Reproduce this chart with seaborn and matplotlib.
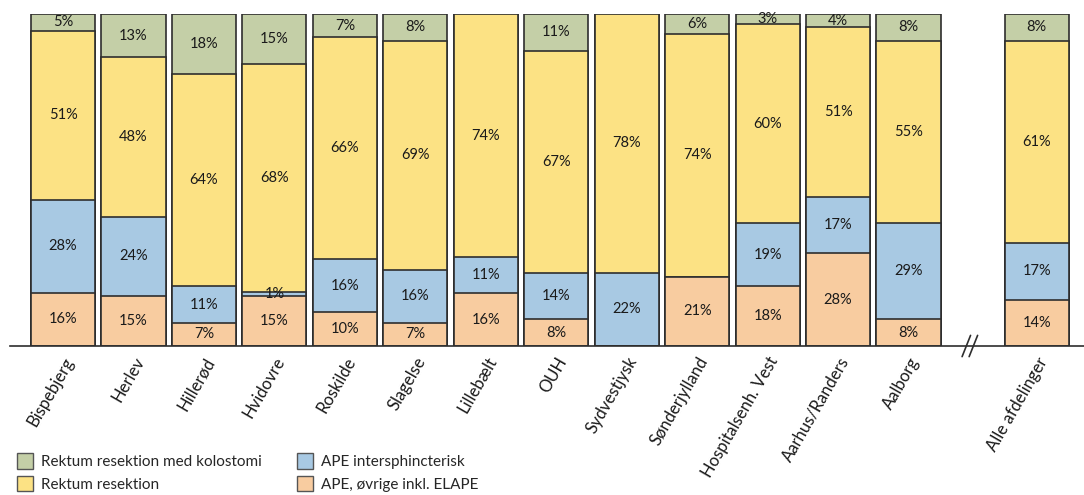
import numpy as np
import pandas as pd
import matplotlib
matplotlib.use('Agg')
import matplotlib.pyplot as plt
import seaborn as sns
from matplotlib.patches import Patch

# Data (procent pr. afdeling)
afdelinger = ['Bispebjerg', 'Herlev', 'Hillerød', 'Hvidovre', 'Roskilde', 'Slagelse',
              'Lillebælt', 'OUH', 'Sydvestjysk', 'Sønderjylland', 'Hospitalsenh. Vest',
              'Aarhus/Randers', 'Aalborg', 'Alle afdelinger']
ape_ovrige = [16, 15, 7, 15, 10, 7, 16, 8, 0, 21, 18, 28, 8, 14]
ape_inter = [28, 24, 11, 1, 16, 16, 11, 14, 22, 0, 19, 17, 29, 17]
rektum_res = [51, 48, 64, 68, 66, 69, 74, 67, 78, 74, 60, 51, 55, 61]
rektum_kolo = [5, 13, 18, 15, 7, 8, 0, 11, 0, 6, 3, 4, 8, 8]

serier = ['APE, øvrige inkl. ELAPE', 'APE intersphincterisk',
          'Rektum resektion', 'Rektum resektion med kolostomi']
farver = {'APE, øvrige inkl. ELAPE': '#F8CCA0',
          'APE intersphincterisk': '#A8C9E3',
          'Rektum resektion': '#FCE284',
          'Rektum resektion med kolostomi': '#C4CFA7'}

sns.set_style('white')
plt.rcParams['font.family'] = ['Lato', 'DejaVu Sans']

df = pd.DataFrame({'afdeling': afdelinger,
                   serier[0]: ape_ovrige, serier[1]: ape_inter,
                   serier[2]: rektum_res, serier[3]: rektum_kolo})
# "Alle afdelinger" står lidt adskilt fra de øvrige
df['pos'] = [float(i) for i in range(len(afdelinger) - 1)] + [13.82]

andel = df[serier].div(df[serier].sum(axis=1), axis=0) * 100
kum = andel.cumsum(axis=1)

fig = plt.figure(figsize=(10.84, 4.95), dpi=100)
ax = fig.add_axes([0.0092, 0.301, 0.9908, 0.6707])

# Stablede søjler: tegn kumulative summer fra toppen og ned
for s in reversed(serier):
    sns.barplot(x=df['pos'], y=kum[s], native_scale=True, color=farver[s],
                saturation=1, width=0.91, edgecolor='#2e2e2e', linewidth=1.2,
                errorbar=None, ax=ax)

# Procent-etiketter
for i, row in df.iterrows():
    bund = 0
    for s in serier:
        h = andel.loc[i, s]
        if row[s] > 0:
            ax.text(row['pos'], bund + h / 2, f"{row[s]}%", ha='center', va='center',
                    fontsize=10.5, color='#1a1a1a')
        bund += h

ax.set_xlim(-0.753, 14.49)
ax.set_ylim(0, 100)
ax.set_yticks([])
ax.set_ylabel('')
ax.set_xlabel('')
ax.set_xticks(df['pos'])
ax.set_xticklabels(afdelinger, rotation=60, ha='right', rotation_mode='anchor',
                   fontsize=12, color='#1a1a1a')
ax.tick_params(axis='x', length=0, pad=6)
sns.despine(ax=ax, left=True)
ax.spines['bottom'].set_color('#2e2e2e')
ax.spines['bottom'].set_linewidth(1.2)

# Brud-markering "//" på x-aksen
bx = 12.87
for dx in (-0.05, 0.05):
    ax.plot([bx + dx - 0.06, bx + dx + 0.06], [-3.2, 3.2], color='#2e2e2e',
            lw=1.2, clip_on=False)

# Legende
handles = [Patch(facecolor=farver[s], edgecolor='#555555', label=s)
           for s in [serier[3], serier[2], serier[1], serier[0]]]
fig.legend(handles=handles, loc='upper left', bbox_to_anchor=(0.016, 0.084),
           ncol=2, frameon=False, fontsize=11, handlelength=1.05, handleheight=1.2,
           handletextpad=0.5, labelspacing=0.4, columnspacing=2.3, borderpad=0,
           borderaxespad=0)

fig.savefig('out.png', dpi=100)
